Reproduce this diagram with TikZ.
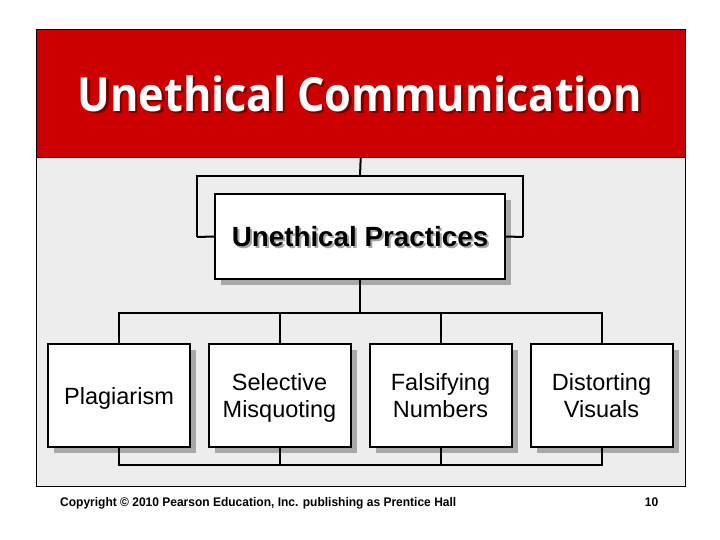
\documentclass[tikz,border=0pt]{standalone}
\usepackage{fontspec}
\setmainfont{Liberation Sans}
\newfontfamily\titlefont{Open Sans}
\usetikzlibrary{shadows}
\definecolor{hdrred}{HTML}{CC0000}
\definecolor{hdrshadow}{HTML}{7A0000}
\definecolor{bgpat}{HTML}{EDEDED}
\definecolor{shadowgray}{HTML}{A8A8A8}
\newcommand{\boxlines}[1]{\raisebox{-3pt}[\height][\depth]{\setlength{\tabcolsep}{0pt}\renewcommand{\arraystretch}{1}\begin{tabular}{c}#1\end{tabular}}}
\tikzset{
  box/.style={draw=black, line width=2pt, fill=white, minimum width=142pt, minimum height=103pt,
    align=center, font=\fontsize{23.5}{27.5}\selectfont, inner sep=0pt,
    drop shadow={shadow xshift=6pt, shadow yshift=-6pt, fill=shadowgray, opacity=1}},
  pbox/.style={box, minimum width=290pt, minimum height=85pt, font=\bfseries\fontsize{27.8}{30}\selectfont},
  conn/.style={line width=2pt, black}
}
\begin{document}
\begin{tikzpicture}[x=1pt,y=-1pt]
\useasboundingbox (0,0) rectangle (720,540);
\fill[white] (0,0) rectangle (720,540);
% background and frame
\fill[bgpat] (36,157) rectangle (685,486);
\node[fill=hdrred, minimum width=649pt, minimum height=127pt, inner sep=0pt, anchor=north west] (header) at (36,30) {};
\draw[line width=1pt] (36,30) rectangle (685,486);
\draw[line width=1pt] (header.south west) -- (header.south east);
% title
\node[text=white, font=\titlefont\bfseries\fontsize{47}{50}\selectfont] (title) at (360,95) {\scalebox{0.92}[1]{\textcolor{hdrshadow}{\rlap{\hspace{2.5pt}\raisebox{-2.5pt}{Unethical Communication}}}Unethical Communication}};
% bracket behind practices box
\coordinate (bl) at (197,237);
\coordinate (br) at (523,237);
\draw[conn] (header.south) -- (360,176);
\draw[conn] (bl) |- (523,176) -- (br);
% practices box
\node[pbox] (P) at (360,236.5) {\raisebox{-1.5pt}[\height][\depth]{\textcolor{black!35}{\rlap{\hspace{2pt}\raisebox{-2pt}{Unethical Practices}}}Unethical Practices}};
\draw[conn] (bl) -- (P.west);
\draw[conn] (br) -- (P.east);
% bottom boxes
\node[box] (b1) at (119,395.5) {\boxlines{Plagiarism}};
\node[box] (b2) at (279.5,395.5) {\boxlines{Selective\\Misquoting}};
\node[box] (b3) at (440.5,395.5) {\boxlines{Falsifying\\Numbers}};
\node[box] (b4) at (601.5,395.5) {\boxlines{Distorting\\Visuals}};
% connectors
\draw[conn] (P.south) -- (P.south |- 0,312.5);
\draw[conn] (b1.north) -- (b1.north |- 0,312.5) -| (b4.north);
\draw[conn] (b2.north) -- (b2.north |- 0,312.5);
\draw[conn] (b3.north) -- (b3.north |- 0,312.5);
\draw[conn] (b1.south) -- (b1.south |- 0,464.5) -| (b4.south);
\draw[conn] (b2.south) -- (b2.south |- 0,464.5);
\draw[conn] (b3.south) -- (b3.south |- 0,464.5);
% footer
\node[anchor=base west, inner sep=0pt, font=\bfseries\fontsize{12.5}{14}\selectfont] (copy) at (60,506.5) {\scalebox{0.96}[1]{Copyright \textcopyright\ 2010 Pearson Education, Inc. publishing as Prentice Hall}};
\node[anchor=base east, inner sep=0pt, font=\bfseries\fontsize{12.5}{14}\selectfont] (pg) at (658.5,506.5) {\scalebox{0.96}[1]{10}};
\end{tikzpicture}
\end{document}
